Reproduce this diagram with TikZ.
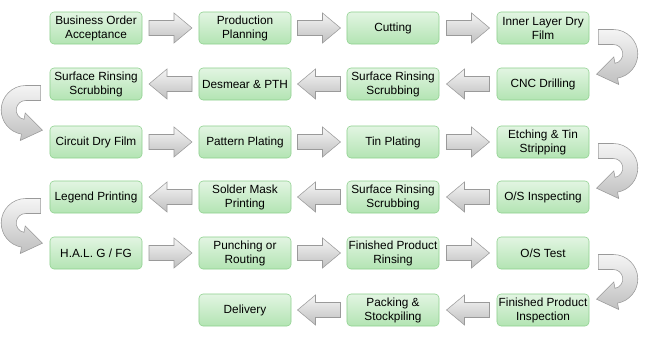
\documentclass[tikz,border=0pt]{standalone}
\usepackage{fontspec}
\setmainfont{Liberation Sans}
\usetikzlibrary{calc}

\definecolor{boxtop}{HTML}{E2F5E2}
\definecolor{boxbot}{HTML}{B3E4B3}
\definecolor{boxline}{HTML}{8ED08E}
\definecolor{arrline}{HTML}{9A9A9A}

\tikzset{
  stepbox/.style={draw=boxline, top color=boxtop, bottom color=boxbot,
    rounded corners=0.1cm, minimum width=2.3cm, minimum height=0.8cm,
    inner sep=1pt, align=center, font=\fontsize{8.4}{10}\selectfont},
  arrfill/.style={draw=arrline, top color=gray!8, bottom color=gray!50, line join=miter},
  flowarrow/.pic={
    \path[arrfill] (-21.5,-7.5) -- (3.5,-7.5) -- (3.5,-15) -- (21.5,0)
      -- (3.5,15) -- (3.5,7.5) -- (-21.5,7.5) -- cycle;
  },
  turnarrow/.pic={
    \path[arrfill] (0,-7.5) -- (15,-7.5) arc[start angle=-90, end angle=80, radius=24.5]
      -- (20.4,47.5) -- (-1.8,37.2) -- (15.5,19.95) -- (16.65,26.36)
      arc[start angle=80, end angle=-90, radius=9.5] -- (0,7.5) -- cycle;
  }
}

\begin{document}
\begin{tikzpicture}[x=0.025cm, y=-0.025cm]
    \useasboundingbox (0,0) rectangle (650,340);

    % Row 1 (left to right)
    \node[stepbox] (order) at (96,28)  {Business Order\\Acceptance};
    \node[stepbox] (plan)  at (245,28) {Production\\Planning};
    \node[stepbox] (cut)   at (393,28) {Cutting};
    \node[stepbox] (inner) at (543,28) {Inner Layer Dry\\Film};

    % Row 2 (right to left)
    \node[stepbox] (cnc)     at (543,84) {CNC Drilling};
    \node[stepbox] (rinseA)  at (393,84) {Surface Rinsing\\Scrubbing};
    \node[stepbox] (desmear) at (245,84) {Desmear \& PTH};
    \node[stepbox] (rinseB)  at (96,84)  {Surface Rinsing\\Scrubbing};

    % Row 3
    \node[stepbox] (circuit) at (96,142)  {Circuit Dry Film};
    \node[stepbox] (pattern) at (245,142) {Pattern Plating};
    \node[stepbox] (tin)     at (393,142) {Tin Plating};
    \node[stepbox] (etch)    at (543,142) {Etching \& Tin\\Stripping};

    % Row 4
    \node[stepbox] (osinsp)  at (543,197) {O/S Inspecting};
    \node[stepbox] (rinseC)  at (393,197) {Surface Rinsing\\Scrubbing};
    \node[stepbox] (solder)  at (245,197) {Solder Mask\\Printing};
    \node[stepbox] (legend)  at (96,197)  {Legend Printing};

    % Row 5
    \node[stepbox] (hal)      at (96,253)  {H.A.L. G / FG};
    \node[stepbox] (punch)    at (245,253) {Punching or\\Routing};
    \node[stepbox] (finrinse) at (393,253) {Finished Product\\Rinsing};
    \node[stepbox] (ostest)   at (543,253) {O/S Test};

    % Row 6
    \node[stepbox] (fininsp)  at (543,310) {Finished Product\\Inspection};
    \node[stepbox] (pack)     at (393,310) {Packing \&\\Stockpiling};
    \node[stepbox] (delivery) at (245,310) {Delivery};

    % Straight arrows
    \foreach \a/\b in {order/plan, plan/cut, cut/inner, circuit/pattern, pattern/tin,
        tin/etch, hal/punch, punch/finrinse, finrinse/ostest}
        \pic at ($(\a.east)!0.5!(\b.west)$) {flowarrow};
    \foreach \a/\b in {cnc/rinseA, rinseA/desmear, desmear/rinseB, osinsp/rinseC,
        rinseC/solder, solder/legend, fininsp/pack, pack/delivery}
        \pic[rotate=180] at ($(\a.west)!0.5!(\b.east)$) {flowarrow};

    % Turning arrows
    \foreach \a in {inner, etch, ostest}
        \pic at ($(\a.east)+(9,9)$) {turnarrow};
    \foreach \a in {rinseB, legend}
        \pic[xscale=-1] at ($(\a.west)+(-9,9)$) {turnarrow};

\end{tikzpicture}
\end{document}
